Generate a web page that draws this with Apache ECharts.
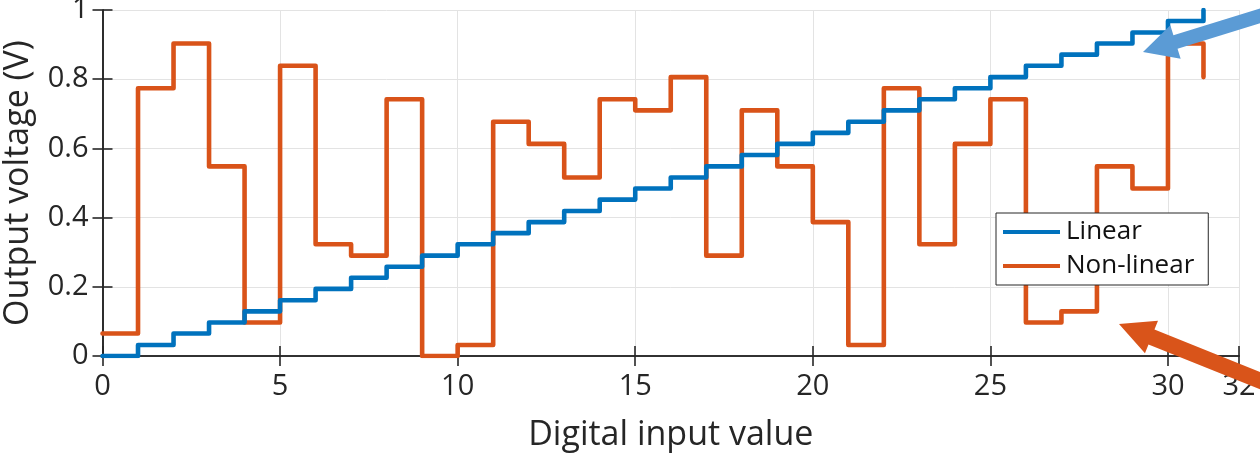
<!DOCTYPE html>
<html>
<head>
<meta charset="utf-8">
<script src="https://cdn.jsdelivr.net/npm/echarts@6/dist/echarts.min.js"></script>
<style>
html,body{margin:0;padding:0;background:#fff;}
#chart{width:1260px;height:460px;}
</style>
</head>
<body>
<div id="chart"></div>
<script>
const inputValues = [0,1,2,3,4,5,6,7,8,9,10,11,12,13,14,15,16,17,18,19,20,21,22,23,24,25,26,27,28,29,30,31];
const linearValues = [0, 0.032, 0.065, 0.097, 0.129, 0.161, 0.194, 0.226, 0.258, 0.290, 0.323, 0.355, 0.387, 0.419, 0.452, 0.484, 0.516, 0.548, 0.581, 0.613, 0.645, 0.677, 0.710, 0.742, 0.774, 0.806, 0.839, 0.871, 0.903, 0.935, 0.968, 1.0];
const nonLinearValues = [0.065, 0.774, 0.903, 0.548, 0.097, 0.839, 0.323, 0.290, 0.742, 0, 0.032, 0.677, 0.613, 0.516, 0.742, 0.710, 0.806, 0.290, 0.710, 0.548, 0.387, 0.032, 0.774, 0.323, 0.613, 0.742, 0.097, 0.129, 0.548, 0.484, 0.903, 0.806];
const seriesNames = ['Linear', 'Non-linear'];

const AX = '#262626';
const tickFont = 'Open Sans';
const nameFont = 'Open Sans';

function arrowPoints(tail, tip, shaftW, headL, headW) {
  const dx = tip[0] - tail[0], dy = tip[1] - tail[1];
  const len = Math.sqrt(dx * dx + dy * dy);
  const ux = dx / len, uy = dy / len;
  const px = -uy, py = ux;
  const bx = tip[0] - ux * headL, by = tip[1] - uy * headL;
  const s = shaftW / 2, h = headW / 2;
  return [
    [tail[0] + px * s, tail[1] + py * s],
    [bx + px * s, by + py * s],
    [bx + px * h, by + py * h],
    [tip[0], tip[1]],
    [bx - px * h, by - py * h],
    [bx - px * s, by - py * s],
    [tail[0] - px * s, tail[1] - py * s]
  ];
}

const chart = echarts.init(document.getElementById('chart'), null, {renderer: 'canvas'});
const axisCommon = {
  axisLine: {show: true, lineStyle: {color: AX, width: 1.6}},
  axisTick: {show: true, inside: true, length: 10, lineStyle: {color: AX, width: 1.6}}
};
chart.setOption({
  animation: false,
  backgroundColor: '#fff',
  grid: {left: 102.5, right: 21, top: 10, bottom: 104, containLabel: false, outerBoundsMode: 'none'},
  legend: {
    data: seriesNames,
    orient: 'vertical',
    left: 996, top: 213,
    backgroundColor: '#fff',
    borderColor: AX, borderWidth: 1,
    padding: [6, 14, 6, 7],
    itemGap: 8,
    itemWidth: 57, itemHeight: 4,
    icon: 'rect',
    textStyle: {fontFamily: nameFont, fontSize: 26, color: '#111', padding: [0, 0, 0, 1]}
  },
  xAxis: [{
    type: 'value', min: 0, max: 32, interval: 5,
    name: 'Digital input value', nameLocation: 'middle', nameGap: 62,
    nameTextStyle: {fontFamily: nameFont, fontSize: 34, color: AX},
    axisLabel: {fontFamily: tickFont, fontSize: 29, color: AX, margin: 16},
    splitLine: {show: true, lineStyle: {color: '#e3e3e3', width: 1}},
    ...axisCommon
  }, {
    type: 'value', min: 0, max: 32, interval: 5, position: 'top',
    axisLabel: {show: false}, splitLine: {show: false},
    ...axisCommon
  }],
  yAxis: [{
    type: 'value', min: 0, max: 1, interval: 0.2,
    name: 'Output voltage (V)', nameLocation: 'middle', nameGap: 67,
    nameTextStyle: {fontFamily: nameFont, fontSize: 34, color: AX},
    axisLabel: {fontFamily: tickFont, fontSize: 29, color: AX, margin: 14},
    splitLine: {show: true, lineStyle: {color: '#e3e3e3', width: 1}},
    ...axisCommon
  }, {
    type: 'value', min: 0, max: 1, interval: 0.2, position: 'right',
    axisLabel: {show: false}, splitLine: {show: false},
    ...axisCommon
  }],
  series: [{
    name: seriesNames[0], type: 'line', step: 'end',
    data: inputValues.map((x, i) => [x, linearValues[i]]),
    showSymbol: false, symbol: 'none',
    color: '#0072BD',
    lineStyle: {width: 4.6, color: '#0072BD', join: 'round', cap: 'round'},
    z: 3
  }, {
    name: seriesNames[1], type: 'line', step: 'end',
    data: inputValues.map((x, i) => [x, nonLinearValues[i]]),
    showSymbol: false, symbol: 'none',
    color: '#D95319',
    lineStyle: {width: 4.6, color: '#D95319', join: 'round', cap: 'round'},
    z: 2
  }],
  graphic: [{
    type: 'polygon', z: 100,
    shape: {points: arrowPoints([1266, 14], [1143, 52], 14, 34, 35)},
    style: {fill: '#5B9BD5'}
  }, {
    type: 'polygon', z: 100,
    shape: {points: arrowPoints([1266, 383], [1119, 324], 16, 35, 35)},
    style: {fill: '#D9541A'}
  }]
});
</script>
</body>
</html>
